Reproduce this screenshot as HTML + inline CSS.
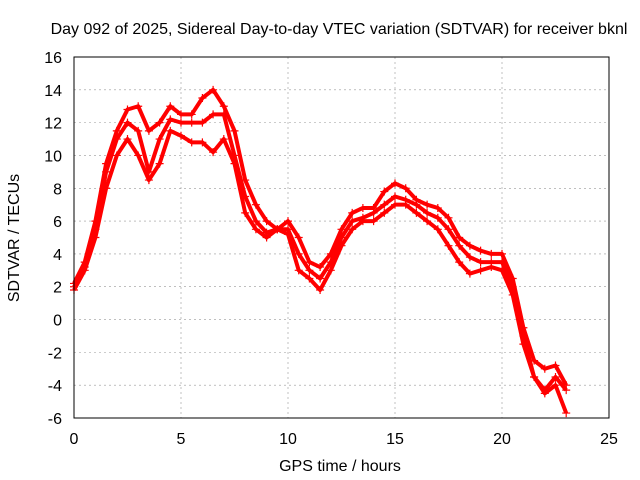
<!DOCTYPE html>
<html><head><meta charset="utf-8"><style>
body{margin:0;background:#fff}
svg{display:block;font-family:"Liberation Sans",sans-serif;font-size:16px}
</style></head><body>
<svg id="c" width="640" height="480">
<text x="339" y="34" text-anchor="middle">Day 092 of 2025, Sidereal Day-to-day VTEC variation (SDTVAR) for receiver bknl</text>
<text x="340" y="471" text-anchor="middle">GPS time / hours</text>
<text transform="translate(19,238) rotate(-90)" text-anchor="middle">SDTVAR / TECUs</text>
<g id="grid"></g><g id="series"></g>
<rect x="74" y="57" width="535" height="361" fill="none" stroke="#000"/>
</svg>
<script>
const xTicks=[0,5,10,15,20,25];
const yTicks=[-6,-4,-2,0,2,4,6,8,10,12,14,16];
const hours=[0,0.5,1,1.5,2,2.5,3,3.5,4,4.5,5,5.5,6,6.5,7,7.5,8,8.5,9,9.5,10,10.5,11,11.5,12,12.5,13,13.5,14,14.5,15,15.5,16,16.5,17,17.5,18,18.5,19,19.5,20,20.5,21,21.5,22,22.5,23];
const trackA=[2.2,3.5,6,9.5,11.5,12.8,13,11.5,12,13,12.5,12.5,13.5,14,13,11.5,8.5,7,6,5.5,6,5,3.5,3.2,4,5.5,6.5,6.8,6.8,7.8,8.3,8,7.3,7,6.8,6.2,5,4.5,4.2,4,4,2.5,-0.5,-2.5,-3,-2.8,-4];
const trackB=[2,3.2,5.5,9,11,12,11.5,9,11,12.2,12,12,12,12.5,12.5,10,7.5,6,5.3,5.5,5.5,4,3,2.5,3.5,5,6,6.2,6.5,7,7.5,7.3,7,6.5,6.2,5.5,4.5,3.8,3.5,3.5,3.5,2,-1,-3.5,-4.3,-3.5,-4.3];
const trackC=[1.8,3,5,8,10,11,10,8.5,9.5,11.5,11.2,10.8,10.8,10.2,11,9.5,6.5,5.5,5,5.5,5.2,3,2.5,1.8,3,4.5,5.5,6,6,6.5,7,7,6.5,6,5.5,4.5,3.5,2.8,3,3.2,3,1.5,-1.5,-3.5,-4.5,-4,-5.7];
const X=v=>74+v*(535/25), Y=v=>418-(v+6)*(361/22);
const NS="http://www.w3.org/2000/svg", svg=document.getElementById('c');
const g=document.getElementById('grid'), s=document.getElementById('series');
function mk(t,a,p){const e=document.createElementNS(NS,t);for(const k in a)e.setAttribute(k,a[k]);p.appendChild(e);return e;}
xTicks.forEach(t=>{
 const l=mk('line',{x1:X(t),x2:X(t),y1:57,y2:418,stroke:'#999','stroke-dasharray':'2,3','stroke-width':0.6},g);
 
 
 const tx=mk('text',{x:X(t),y:444,'text-anchor':'middle'},svg);tx.textContent=t;
 
 
});
yTicks.forEach(t=>{
 const l=mk('line',{x1:74,x2:609,y1:Y(t),y2:Y(t),stroke:'#999','stroke-dasharray':'2,3','stroke-width':0.6},g);
 
 
 const tx=mk('text',{x:62,y:Y(t)+6,'text-anchor':'end'},svg);tx.textContent=t;
 
 
});
[trackA,trackB,trackC].forEach((tr,i)=>{
 const pts=hours.map((h,j)=>X(h)+','+Y(tr[j])).join(' ');
 const pl=mk('polyline',{points:pts,fill:'none',stroke:'#f00','stroke-width':4,'stroke-linejoin':'round'},s);
 
 
 hours.forEach((h,j)=>{
  const x=X(h),y=Y(tr[j]);
  const p=mk('path',{d:`M${x-4},${y}H${x+4}M${x},${y-4}V${y+4}`,stroke:'#f00','stroke-width':1.2},s);
  
  
 });
});
</script>
</body></html>
